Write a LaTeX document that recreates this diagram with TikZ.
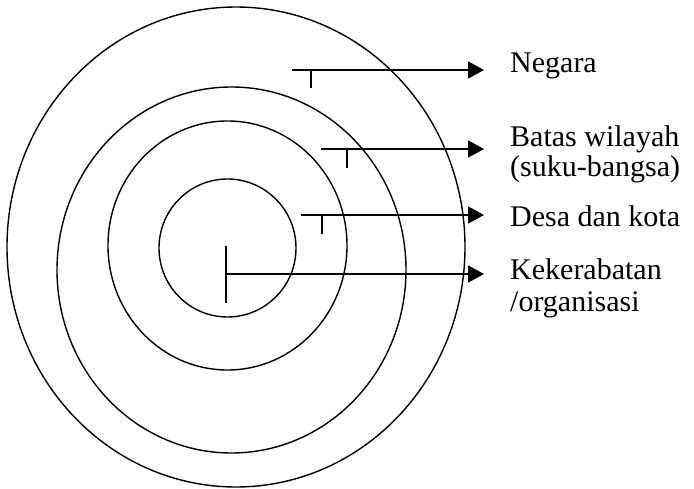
\documentclass[tikz,border=0pt]{standalone}
\usepackage{fontspec}
\setmainfont{Liberation Serif}
\usetikzlibrary{arrows.meta}
\tikzset{
  ring/.style={draw=black, line width=1.4pt},
  pointer/.style={draw=black, line width=1.7pt, -{Triangle[length=16pt,width=17pt]}},
  tick/.style={draw=black, line width=1.6pt},
  lbl/.style={anchor=base west, inner sep=0pt, font=\fontsize{30}{31}\selectfont}
}
\begin{document}
\begin{tikzpicture}[x=1pt,y=-1pt]
\useasboundingbox (0,0) rectangle (694,489);
\fill[white] (0,0) rectangle (694,489);
% rings
\draw[ring] (236,247) ellipse [x radius=229, y radius=240];
\draw[ring] (231.5,270) ellipse [x radius=174.5, y radius=183];
\draw[ring] (227.5,245.5) ellipse [x radius=119.5, y radius=124.5];
\draw[ring] (227.5,248) ellipse [x radius=68.5, y radius=69];
% labels
\node[lbl] (negara) at (510,73) {Negara};
\node[lbl] (batas1) at (510,146.5) {Batas wilayah};
\node[lbl] (batas2) at (510,177) {(suku-bangsa)};
\node[lbl] (desa) at (510,227) {Desa dan kota};
\node[lbl] (kerab1) at (510,280) {Kekerabatan};
\node[lbl] (kerab2) at (510,311.5) {/organisasi};
% connector coordinates
\coordinate (s1) at (292,70);   \coordinate (e1) at (484,70);
\coordinate (t1a) at (311,70);  \coordinate (t1b) at (311,88);
\coordinate (s2) at (321,149);  \coordinate (e2) at (484,149);
\coordinate (t2a) at (347,149); \coordinate (t2b) at (347,168);
\coordinate (s3) at (301,215);  \coordinate (e3) at (484,215);
\coordinate (t3a) at (322,215); \coordinate (t3b) at (322,234);
\coordinate (s4) at (226,274);  \coordinate (e4) at (484,274);
\coordinate (t4a) at (226,246); \coordinate (t4b) at (226,303);
% arrows
\draw[pointer] (s1) -- (e1);
\draw[tick] (t1a) -- (t1b);
\draw[pointer] (s2) -- (e2);
\draw[tick] (t2a) -- (t2b);
\draw[pointer] (s3) -- (e3);
\draw[tick] (t3a) -- (t3b);
\draw[pointer] (s4) -- (e4);
\draw[tick] (t4a) -- (t4b);
\end{tikzpicture}
\end{document}
